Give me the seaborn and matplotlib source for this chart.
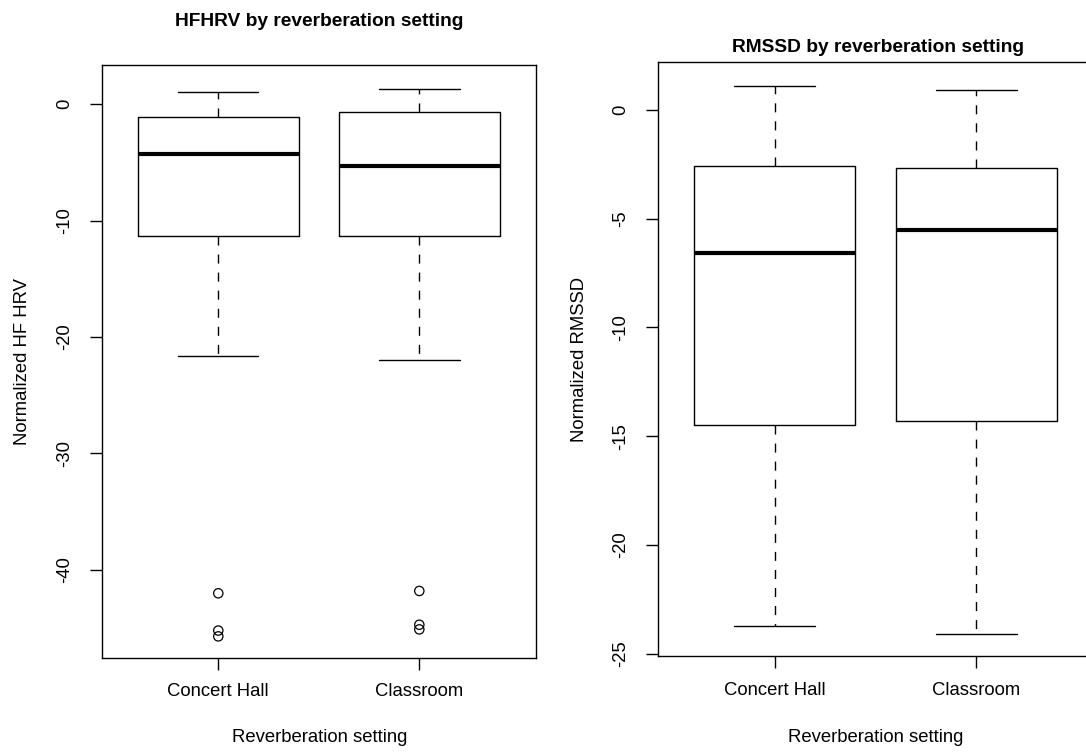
import numpy as np
import pandas as pd
import matplotlib
matplotlib.use("Agg")
import matplotlib.pyplot as plt
import seaborn as sns

# ---- data ----
settings = ["Concert Hall", "Classroom"]

hf_lower_whisker = [-21.6, -22.0]
hf_q1 = [-11.3, -11.3]
hf_median = [-4.3, -5.3]
hf_q3 = [-1.1, -0.7]
hf_upper_whisker = [1.0, 1.3]
hf_outliers_concert = [-42.0, -45.2, -45.7]
hf_outliers_classroom = [-41.8, -44.7, -45.1]

rm_lower_whisker = [-23.7, -24.1]
rm_q1 = [-14.5, -14.3]
rm_median = [-6.6, -5.5]
rm_q3 = [-2.6, -2.65]
rm_upper_whisker = [1.1, 0.9]

hf_yticks = [0, -10, -20, -30, -40]
rm_yticks = [0, -5, -10, -15, -20, -25]

sns.set_theme(style="white")
plt.rcParams["font.family"] = ["Liberation Sans", "DejaVu Sans"]
plt.rcParams["text.color"] = "black"
plt.rcParams["xtick.color"] = "black"
plt.rcParams["ytick.color"] = "black"
plt.rcParams["axes.labelcolor"] = "black"

FS = 13.3

fig = plt.figure(figsize=(10.86, 7.52), dpi=100)
W, H = 1086, 752


def make_ax(left, top, right, bottom):
    return fig.add_axes([left / W, 1 - bottom / H, (right - left) / W, (bottom - top) / H])


ax1 = make_ax(101.7, 65, 535.9, 657.7)
ax2 = make_ax(657.7, 62, 1093.5, 656)


def stats_from(lo, q1, med, q3, hi):
    out = []
    for i, name in enumerate(settings):
        out.append(dict(label=name, whislo=lo[i], q1=q1[i], med=med[i], q3=q3[i],
                        whishi=hi[i], fliers=[]))
    return out


def draw(ax, stats, outliers, ylim, yticks):
    ax.bxp(stats, positions=[1, 2], widths=0.8, capwidths=0.4, showfliers=False,
           boxprops=dict(color="black", lw=1.0),
           whiskerprops=dict(color="black", lw=1.0, linestyle=(0, (6.5, 6.5))),
           capprops=dict(color="black", lw=1.0),
           medianprops=dict(color="black", lw=3.0, solid_capstyle="butt"),
           manage_ticks=False)
    if outliers is not None:
        df = pd.DataFrame(outliers)
        df["pos"] = df["setting"].map({s: i + 1 for i, s in enumerate(settings)})
        sns.scatterplot(data=df, x="pos", y="value", ax=ax, marker="o", s=45,
                        facecolors="none", edgecolor="black", linewidth=0.9,
                        legend=False, zorder=3)
    ax.set_xlim(0.42, 2.58)
    ax.set_ylim(*ylim)
    ax.set_xticks([1, 2])
    ax.set_xticklabels(settings, fontsize=FS, color="black")
    ax.set_yticks(yticks)
    ax.set_yticklabels([str(t) for t in yticks], fontsize=FS, rotation=90, va="center",
                       color="black")
    ax.tick_params(axis="both", direction="out", length=8.5, width=1.0, color="black",
                   bottom=True, left=True)
    ax.tick_params(axis="x", pad=10)
    ax.tick_params(axis="y", pad=12)
    for sp in ax.spines.values():
        sp.set_color("black")
        sp.set_linewidth(1.0)
        sp.set_visible(True)
    ax.set_xlabel("")
    ax.set_ylabel("")
    ax.grid(False)


hf_out = {"setting": ["Concert Hall"] * len(hf_outliers_concert) + ["Classroom"] * len(hf_outliers_classroom),
          "value": hf_outliers_concert + hf_outliers_classroom}

draw(ax1, stats_from(hf_lower_whisker, hf_q1, hf_median, hf_q3, hf_upper_whisker),
     hf_out, (-47.53, 3.35), hf_yticks)
draw(ax2, stats_from(rm_lower_whisker, rm_q1, rm_median, rm_q3, rm_upper_whisker),
     None, (-25.1, 2.2), rm_yticks)

# titles and axis labels (placed as in the reference layout)
fig.text(319 / W, 1 - 22 / H, "HFHRV by reverberation setting", ha="center", va="center",
         fontsize=13.8, fontweight="bold", color="black")
fig.text(878 / W, 1 - 47 / H, "RMSSD by reverberation setting", ha="center", va="center",
         fontsize=13.8, fontweight="bold", color="black")
fig.text(320 / W, 1 - 738 / H, "Reverberation setting", ha="center", va="center", fontsize=FS)
fig.text(876 / W, 1 - 738 / H, "Reverberation setting", ha="center", va="center", fontsize=FS)
fig.text(23 / W, 1 - 361 / H, "Normalized HF HRV", ha="center", va="center", rotation=90, fontsize=FS)
fig.text(580 / W, 1 - 359 / H, "Normalized RMSSD", ha="center", va="center", rotation=90, fontsize=FS)

fig.savefig("out.png", dpi=100, facecolor="white")
